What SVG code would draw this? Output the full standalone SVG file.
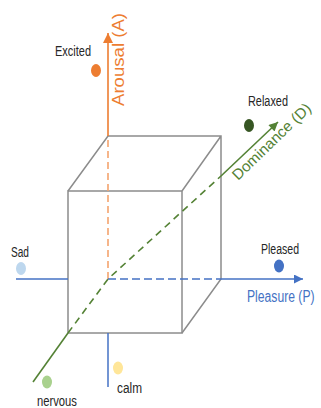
<svg xmlns="http://www.w3.org/2000/svg" width="321" height="408" viewBox="0 0 321 408">
<style>
  .cube{fill:none;stroke:#8c8c8c;stroke-width:1.5}
  .lbl{font-family:"Liberation Sans",Arial,sans-serif;font-size:14px;fill:#262626}
  .ax{font-family:"Liberation Sans",Arial,sans-serif}
  .o{stroke:#ED7D31;stroke-width:1.6;fill:none}
  .od{stroke:#F4A46E;stroke-width:1.6;fill:none;stroke-dasharray:7 4}
  .b{stroke:#4472C4;stroke-width:1.5;fill:none}
  .bd{stroke:#4472C4;stroke-width:1.5;fill:none;stroke-dasharray:8 4}
  .g{stroke:#548235;stroke-width:1.6;fill:none}
  .gd{stroke:#548235;stroke-width:1.6;fill:none;stroke-dasharray:7 5}
</style>
<defs>
  <marker id="arO" viewBox="0 0 10 10" refX="10" refY="5" markerUnits="userSpaceOnUse" markerWidth="12" markerHeight="10" orient="auto"><path d="M0,0 L10,5 L0,10 z" fill="#ED7D31"/></marker>
  <marker id="arB" viewBox="0 0 10 10" refX="10" refY="5" markerUnits="userSpaceOnUse" markerWidth="10" markerHeight="9" orient="auto"><path d="M0,0 L10,5 L0,10 z" fill="#4472C4"/></marker>
  <marker id="arG" viewBox="0 0 10 10" refX="10" refY="5" markerUnits="userSpaceOnUse" markerWidth="11" markerHeight="9" orient="auto"><path d="M0,0 L10,5 L0,10 z" fill="#548235"/></marker>
</defs>
<rect width="321" height="408" fill="#ffffff"/>
<g id="cube">
  <rect class="cube" x="68" y="191" width="114" height="142"/>
  <path class="cube" d="M68,191 L108,136 L221,136 L221,279 L182,333 M182,191 L221,136"/>
</g>
<g id="connectors">
  <g id="arousal-axis">
    <line class="od" x1="108" y1="279" x2="108" y2="136"/>
    <line class="o" x1="108" y1="136" x2="108" y2="33" marker-end="url(#arO)"/>
  </g>
  <g id="pleasure-axis">
    <line class="b" x1="16" y1="279" x2="68" y2="279"/>
    <line class="bd" x1="108" y1="279" x2="221" y2="279"/>
    <line class="b" x1="221" y1="279" x2="303" y2="279" marker-end="url(#arB)"/>
    <line class="b" x1="108" y1="333" x2="108" y2="387"/>
  </g>
  <g id="dominance-axis">
    <line class="g" x1="33" y1="382" x2="68" y2="333"/>
    <polyline class="gd" points="68,333 108,279 221,176"/>
    <line class="g" x1="221" y1="176" x2="278" y2="122" marker-end="url(#arG)"/>
  </g>
  <text class="ax" transform="translate(124,106) rotate(-90)" font-size="16" fill="#ED7D31" textLength="93" lengthAdjust="spacingAndGlyphs">Arousal (A)</text>
  <text class="ax" transform="translate(247,302) scale(0.76,1)" font-size="16" fill="#4472C4">Pleasure (P)</text>
  <text class="ax" transform="translate(238,181) rotate(-44)" font-size="15" fill="#548235" textLength="103" lengthAdjust="spacingAndGlyphs">Dominance (D)</text>
</g>
<g id="excited">
  <ellipse cx="96" cy="70.5" rx="5" ry="6.5" fill="#ED7D31"/>
  <text class="lbl" x="55" y="55.5" textLength="36" lengthAdjust="spacingAndGlyphs">Excited</text>
</g>
<g id="relaxed">
  <ellipse cx="249" cy="125.5" rx="5" ry="6.5" fill="#375623"/>
  <text class="lbl" x="248" y="106" textLength="40" lengthAdjust="spacingAndGlyphs">Relaxed</text>
</g>
<g id="sad">
  <ellipse cx="21" cy="268.5" rx="5" ry="6.5" fill="#BDD7EE"/>
  <text class="lbl" x="11" y="257" textLength="18" lengthAdjust="spacingAndGlyphs">Sad</text>
</g>
<g id="pleased">
  <ellipse cx="279" cy="266" rx="5" ry="6.5" fill="#4472C4"/>
  <text class="lbl" x="261" y="254" textLength="38" lengthAdjust="spacingAndGlyphs">Pleased</text>
</g>
<g id="calm">
  <ellipse cx="118" cy="368" rx="5" ry="6.5" fill="#FFE699"/>
  <text class="lbl" x="117" y="393" font-size="15" textLength="25" lengthAdjust="spacingAndGlyphs">calm</text>
</g>
<g id="nervous">
  <ellipse cx="47" cy="382" rx="5" ry="6.5" fill="#A9D18E"/>
  <text class="lbl" x="37" y="406" font-size="15" textLength="40" lengthAdjust="spacingAndGlyphs">nervous</text>
</g>
</svg>
